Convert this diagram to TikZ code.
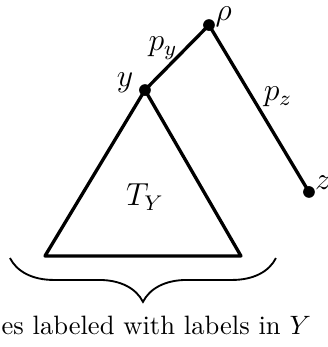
\documentclass[tikz,border=0pt]{standalone}
\usepackage{tikz}
\usetikzlibrary{positioning, decorations.pathreplacing}

\begin{document}
\begin{tikzpicture}[
    treedot/.style={circle, fill=black, inner sep=0pt, minimum size=4.4pt},
    treeedge/.style={line width=1.25pt, line cap=round, line join=round},
    treelbl/.style={font=\large, inner sep=1pt},
    bracedeco/.style={line width=0.7pt, decorate, decoration={brace, mirror, amplitude=0.58cm}}
]
\useasboundingbox (0,0) rectangle (4.339,4.591);

% tree nodes
\node[treedot, label={[treelbl, xshift=0.195cm, yshift=0.115cm]center:$\rho$}] (rho) at (2.765,4.260) {};
\node[treedot, label={[treelbl, xshift=-0.265cm, yshift=0.093cm]center:$y$}]   (y)   at (1.918,3.400) {};
\node[treedot, label={[treelbl, xshift=0.185cm, yshift=0.119cm]center:$z$}]    (z)   at (4.088,2.051) {};
\coordinate (bl) at (0.595,1.204);
\coordinate (br) at (3.188,1.204);

\draw[treeedge] (y.center) -- node[treelbl, xshift=-0.185cm, yshift=0.126cm] {$p_y$} (rho.center);
\draw[treeedge] (rho.center) -- node[treelbl, xshift=0.251cm, yshift=0.152cm] {$p_z$} (z.center);
\draw[treeedge] (y.center) -- (bl) -- (br) -- cycle;
\node[treelbl] (ty) at (1.918,1.985) {$T_Y$};

% brace and caption
\coordinate (bracel) at (0.132,1.177);
\coordinate (bracer) at (3.651,1.177);
\draw[bracedeco] (bracel) -- (bracer);
\node[anchor=base west, inner sep=0pt] (caption) at (0.013,0.159) {es labeled with labels in $Y$};
\end{tikzpicture}
\end{document}
